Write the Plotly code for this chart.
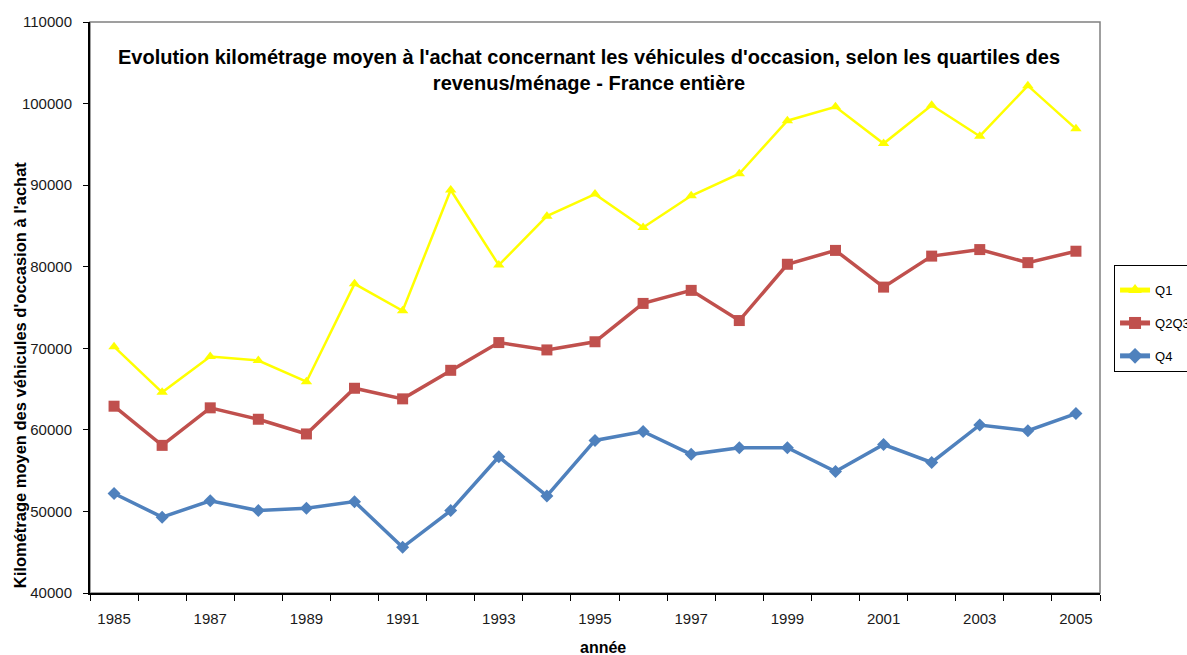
import plotly.graph_objects as go

years = [1985, 1986, 1987, 1988, 1989, 1990, 1991, 1992, 1993, 1994, 1995,
         1996, 1997, 1998, 1999, 2000, 2001, 2002, 2003, 2004, 2005]
q1 = [70200, 64600, 69000, 68500, 65900, 77900, 74600, 89400, 80200, 86200, 88900,
      84800, 88700, 91400, 97900, 99600, 95100, 99800, 96000, 102200, 96900]
q2q3 = [62900, 58100, 62700, 61300, 59500, 65100, 63800, 67300, 70700, 69800, 70800,
        75500, 77100, 73400, 80300, 82000, 77500, 81300, 82100, 80500, 81900]
q4 = [52200, 49300, 51300, 50100, 50400, 51200, 45600, 50100, 56700, 51900, 58700,
      59800, 57000, 57800, 57800, 54900, 58200, 56000, 60600, 59900, 62000]
label_years = [1985, 1987, 1989, 1991, 1993, 1995, 1997, 1999, 2001, 2003, 2005]
y_ticks = [40000, 50000, 60000, 70000, 80000, 90000, 100000, 110000]

FONT = "Arial, Liberation Sans, sans-serif"

fig = go.Figure()
fig.add_trace(go.Scatter(x=years, y=q1, name="Q1", mode="lines+markers", legendgroup="a",
                         line=dict(color="#FFFF00", width=2.5),
                         marker=dict(symbol="triangle-up", size=10, color="#FFFF00")))
fig.add_trace(go.Scatter(x=years, y=q2q3, name="Q2Q3", mode="lines+markers", legendgroup="b",
                         line=dict(color="#C0504D", width=3.5),
                         marker=dict(symbol="square", size=11, color="#C0504D")))
fig.add_trace(go.Scatter(x=years, y=q4, name="Q4", mode="lines+markers", legendgroup="c",
                         line=dict(color="#4F81BD", width=3.5),
                         marker=dict(symbol="diamond", size=10, color="#4F81BD")))

fig.update_layout(
    width=1187, height=655,
    margin=dict(l=90, r=87, t=22, b=62, autoexpand=False),
    paper_bgcolor="white", plot_bgcolor="white",
    font=dict(family=FONT, color="#1a1a1a"),
    showlegend=True,
    legend=dict(x=1.0139, y=0.5744, xanchor="left", yanchor="top",
                bordercolor="black", borderwidth=1, bgcolor="white",
                font=dict(size=13, family=FONT, color="black"),
                title=dict(text=" ", font=dict(size=7)),
                tracegroupgap=13, itemsizing="constant",
                entrywidth=60, entrywidthmode="pixels"),
    xaxis=dict(range=[1984.5, 2005.5], tickmode="array", tickvals=label_years,
               ticktext=[str(y) for y in label_years], ticks="",
               ticklabelstandoff=11,
               showgrid=False, zeroline=False, showline=True, linecolor="black", linewidth=2,
               tickfont=dict(size=15, family=FONT, color="#1a1a1a"),
               minor=dict(ticks="outside", tick0=1984.5, dtick=1, ticklen=6,
                          tickcolor="black", tickwidth=1, showgrid=False)),
    yaxis=dict(range=[40000, 110000], tickmode="array", tickvals=y_ticks,
               ticktext=[str(v) for v in y_ticks],
               ticks="outside", ticklen=5, tickcolor="black",
               ticklabelstandoff=8,
               showgrid=False, zeroline=False, showline=True, linecolor="black", linewidth=2,
               tickfont=dict(size=15, family=FONT, color="#1a1a1a")),
    shapes=[dict(type="rect", xref="paper", yref="paper", x0=0, x1=1, y0=0, y1=1,
                 line=dict(color="#808080", width=1.5), layer="below")],
    annotations=[
        dict(text="<b>Evolution kilométrage moyen à l'achat concernant les véhicules d'occasion, selon les quartiles des<br>revenus/ménage - France entière</b>",
             xref="paper", yref="paper", x=0.4938, y=0.9615, xanchor="center", yanchor="top",
             showarrow=False, font=dict(size=20, family=FONT, color="black")),
        dict(text="<b>Kilométrage moyen des véhicules d'occasion à l'achat</b>",
             xref="paper", yref="paper", x=-0.069, y=0.382, xanchor="center", yanchor="middle",
             textangle=-90, showarrow=False, font=dict(size=16.5, family=FONT, color="black")),
        dict(text="<b>année</b>", xref="paper", yref="paper", x=0.508, y=-0.0963,
             xanchor="center", yanchor="middle", showarrow=False,
             font=dict(size=16, family=FONT, color="black")),
    ],
)

fig.write_html("out.html", config={"displayModeBar": False},
               post_script="document.body.style.margin='0';document.body.style.overflow='hidden';")
